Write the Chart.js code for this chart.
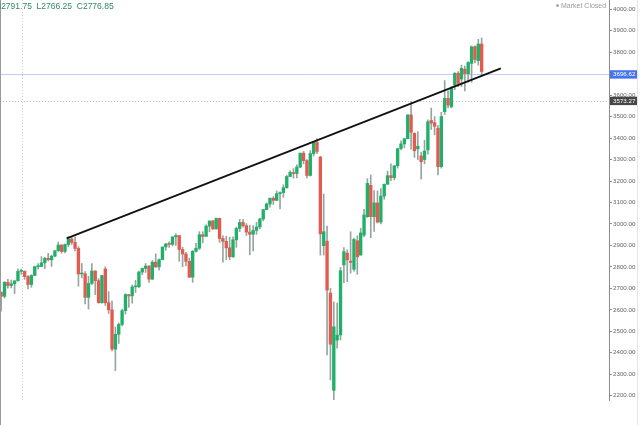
<!DOCTYPE html>
<html>
<head>
<meta charset="utf-8">
<script src="https://cdn.jsdelivr.net/npm/chart.js@4.4.1/dist/chart.umd.min.js"></script>
<style>
  html, body { margin: 0; padding: 0; background: #fff; }
  #wrap { position: relative; width: 640px; height: 425px; overflow: hidden; }
  #legend { position: absolute; left: -5px; top: 1px; font: 8.5px 'Liberation Sans', Arial, sans-serif; color: #2f8a62; white-space: pre; }
  #status { position: absolute; left: 556px; top: 2px; font: 7px 'Liberation Sans', Arial, sans-serif; color: #9a9a9a; white-space: pre; }
  #status span { display: inline-block; width: 3px; height: 3px; border-radius: 50%; background: #a8a8a8; margin-right: 2px; vertical-align: 1px; }
</style>
</head>
<body>
<div id="wrap">
  <canvas id="chart" width="640" height="425"></canvas>
  <div id="legend">H2791.75  L2766.25  C2776.85</div>
  <div id="status"><span></span>Market Closed</div>
</div>
<script>
// Weekly candles, first week ending 2018-05-04
const firstWeek = '2018-05-04';

const opens = [
  2682, 2663, 2728, 2713, 2721, 2735, 2779, 2780, 2755, 2718, 2760, 2801, 2802, 2819, 2840, 2833, 2850, 2875,
  2902, 2872, 2904, 2930, 2914, 2886, 2767, 2768, 2658, 2723, 2781, 2736, 2633, 2790, 2633, 2600, 2417,
  2486, 2532, 2596, 2671, 2665, 2707, 2708, 2776, 2793, 2804, 2743, 2822, 2800, 2834, 2893, 2907, 2905,
  2940, 2946, 2881, 2860, 2826, 2752, 2873, 2887, 2950, 2942, 2990, 3014, 2977, 3026, 2932, 2919, 2889,
  2847, 2926, 2979, 3007, 2992, 2962, 2952, 2970, 2986, 3023, 3067, 3093, 3120, 3110, 3141, 3146, 3169, 3221,
  3240, 3235, 3265, 3330, 3295, 3226, 3328, 3380, 3312, 2899, 2920, 2678, 2225, 2459, 2483, 2809, 2864,
  2827, 2789, 2922, 2855, 2948, 3034, 3180, 3034, 3098, 3009, 3130, 3185, 3225, 3216, 3271, 3351, 3373,
  3397, 3508, 3422, 3350, 3317, 3300, 3345, 3482, 3472, 3446, 3267, 3523, 3585, 3546, 3647, 3702, 3675,
  3721, 3700, 3748, 3826, 3761, 3838
];
const highs = [
  2684, 2732, 2742, 2739, 2736, 2791, 2790, 2781, 2760, 2764, 2804, 2816, 2848, 2845, 2863, 2855, 2877, 2916,
  2903, 2908, 2941, 2940, 2940, 2894, 2816, 2778, 2756, 2815, 2782, 2746, 2760, 2800, 2685, 2641, 2520,
  2539, 2604, 2675, 2671, 2716, 2738, 2780, 2795, 2816, 2806, 2830, 2861, 2838, 2893, 2910, 2917, 2940,
  2954, 2946, 2892, 2868, 2841, 2876, 2910, 2964, 2964, 2996, 3014, 3017, 3028, 3027, 2945, 2943, 2939,
  2940, 2985, 3021, 3022, 3002, 2993, 2993, 3008, 3027, 3067, 3098, 3121, 3127, 3154, 3150, 3183, 3226, 3248,
  3258, 3276, 3330, 3338, 3300, 3341, 3385, 3397, 3315, 3139, 2990, 2700, 2637, 2631, 2798, 2890, 2880,
  2964, 2934, 2945, 2980, 3068, 3211, 3228, 3155, 3154, 3165, 3186, 3246, 3280, 3272, 3352, 3387, 3399,
  3509, 3570, 3425, 3430, 3335, 3390, 3485, 3540, 3500, 3460, 3520, 3668, 3620, 3640, 3705, 3710, 3740,
  3735, 3756, 3830, 3830, 3860, 3866
];
const lows = [
  2594, 2655, 2701, 2702, 2676, 2735, 2765, 2742, 2698, 2705, 2759, 2790, 2802, 2792, 2828, 2802, 2848, 2873,
  2864, 2865, 2894, 2904, 2874, 2710, 2749, 2628, 2603, 2717, 2671, 2631, 2631, 2621, 2583, 2409, 2317,
  2443, 2525, 2580, 2612, 2631, 2681, 2703, 2763, 2774, 2728, 2741, 2798, 2785, 2834, 2877, 2891, 2898,
  2900, 2826, 2801, 2805, 2750, 2728, 2869, 2881, 2912, 2942, 2963, 2975, 2976, 2914, 2822, 2834, 2834,
  2844, 2891, 2964, 2985, 2946, 2856, 2874, 2952, 2977, 3014, 3066, 3078, 3091, 3108, 3070, 3124, 3166, 3220,
  3213, 3214, 3262, 3280, 3214, 3223, 3316, 3328, 2855, 2855, 2390, 2273, 2180, 2422, 2460, 2727, 2731,
  2771, 2780, 2766, 2855, 2940, 3030, 2936, 2965, 3004, 3000, 3115, 3185, 3202, 3205, 3260, 3345, 3355,
  3397, 3349, 3310, 3300, 3209, 3280, 3325, 3440, 3415, 3228, 3260, 3510, 3540, 3540, 3625, 3640, 3640,
  3620, 3660, 3660, 3750, 3740, 3690
];
const closes = [
  2663, 2728, 2713, 2721, 2735, 2779, 2780, 2755, 2718, 2760, 2801, 2802, 2819, 2840, 2833, 2850, 2875, 2902,
  2872, 2904, 2930, 2914, 2886, 2767, 2768, 2658, 2723, 2781, 2736, 2633, 2760, 2633, 2600, 2417, 2486,
  2532, 2596, 2671, 2665, 2707, 2708, 2776, 2793, 2804, 2743, 2822, 2800, 2834, 2893, 2907, 2905, 2940,
  2946, 2881, 2860, 2826, 2752, 2873, 2887, 2950, 2942, 2990, 3014, 2977, 3026, 2932, 2919, 2889, 2847,
  2926, 2979, 3007, 2992, 2962, 2952, 2970, 2986, 3023, 3067, 3093, 3120, 3110, 3141, 3146, 3169, 3221, 3240,
  3235, 3265, 3330, 3295, 3226, 3328, 3380, 3338, 2954, 2964, 2692, 2440, 2521, 2482, 2782, 2871, 2833,
  2821, 2928, 2847, 2958, 3042, 3189, 3034, 3098, 3009, 3130, 3185, 3225, 3216, 3271, 3351, 3373, 3397,
  3508, 3427, 3341, 3362, 3290, 3340, 3476, 3470, 3455, 3267, 3500, 3585, 3554, 3632, 3702, 3655, 3725,
  3700, 3752, 3825, 3766, 3838, 3710
];

const yTicks = [2200, 2300, 2400, 2500, 2600, 2700, 2800, 2900, 3000, 3100, 3200, 3300, 3400, 3500, 3600, 3700, 3800, 3900, 4000];

// trendline drawn on the chart (week index, price)
const trendWeeks = [19.5, 148.7];
const trendPrices = [2933, 3725];

const lastPrice = 3696.62;
const prevClose = 3573.27;
const crosshairWeek = 6.3;

const UP = '#20b06a';
const DOWN = '#e25a50';
const WICK = '#96a69e';

const weeks = [];
const d0 = new Date(firstWeek + 'T00:00:00Z');
for (let i = 0; i < opens.length; i++) {
  const d = new Date(d0.getTime() + i * 7 * 86400000);
  weeks.push(d.toISOString().slice(0, 10));
}

const bodies = opens.map((o, i) => ({ x: i, y: [o, closes[i]] }));
const wicks = lows.map((l, i) => ({ x: i, y: [l, highs[i]] }));
const bodyColors = opens.map((o, i) => closes[i] >= o ? UP : DOWN);
const trend = trendWeeks.map((w, i) => ({ x: w, y: trendPrices[i] }));

const overlay = {
  id: 'overlay',
  beforeDatasetsDraw(chart) {
    const { ctx, chartArea: a, scales: { x, y } } = chart;
    ctx.save();
    // crosshair
    ctx.strokeStyle = '#d0d0d0';
    ctx.lineWidth = 1;
    ctx.setLineDash([1, 2]);
    const cx = Math.round(x.getPixelForValue(crosshairWeek)) + 0.5;
    ctx.beginPath(); ctx.moveTo(cx, a.top); ctx.lineTo(cx, a.bottom); ctx.stroke();
    // previous close dotted line
    ctx.strokeStyle = '#c4c4c4';
    const py = Math.round(y.getPixelForValue(prevClose)) + 0.5;
    ctx.beginPath(); ctx.moveTo(a.left, py); ctx.lineTo(a.right, py); ctx.stroke();
    // last price line
    ctx.setLineDash([]);
    ctx.strokeStyle = '#bccdfa';
    const ly = Math.round(y.getPixelForValue(lastPrice)) + 0.5;
    ctx.beginPath(); ctx.moveTo(a.left, ly); ctx.lineTo(a.right, ly); ctx.stroke();
    ctx.restore();
  },
  afterDraw(chart) {
    const { ctx, chartArea: a, scales: { y } } = chart;
    ctx.save();
    // left frame and right edge lines
    ctx.strokeStyle = '#9a9a9a';
    ctx.lineWidth = 1;
    ctx.beginPath(); ctx.moveTo(0.5, 0); ctx.lineTo(0.5, 425); ctx.stroke();
    ctx.strokeStyle = '#e6e6e6';
    ctx.beginPath(); ctx.moveTo(637.5, 0); ctx.lineTo(637.5, 425); ctx.stroke();
    // price labels on the axis
    ctx.font = "6.2px 'Liberation Sans', Arial, sans-serif";
    ctx.textBaseline = 'middle';
    const boxes = [[lastPrice, '#4474f0'], [prevClose, '#474747']];
    boxes.forEach(([v, c]) => {
      const py = y.getPixelForValue(v);
      ctx.fillStyle = c;
      ctx.fillRect(a.right + 1, py - 4.2, 27, 8.4);
      ctx.fillStyle = '#ffffff';
      ctx.fillText(v.toFixed(2), a.right + 4, py + 0.3);
    });
    ctx.restore();
  }
};

new Chart(document.getElementById('chart'), {
  type: 'bar',
  data: {
    labels: weeks,
    datasets: [
      {
        type: 'line',
        data: trend,
        borderColor: '#111111',
        borderWidth: 1.8,
        pointRadius: 0,
        order: 0
      },
      {
        data: bodies,
        backgroundColor: bodyColors,
        barThickness: 2.7,
        minBarLength: 1,
        grouped: false,
        order: 1
      },
      {
        data: wicks,
        backgroundColor: WICK,
        barThickness: 1,
        grouped: false,
        order: 2
      }
    ]
  },
  plugins: [overlay],
  options: {
    responsive: false,
    animation: false,
    devicePixelRatio: 1,
    layout: { padding: { left: 0, right: 0, top: 0, bottom: 25 } },
    plugins: {
      legend: { display: false },
      tooltip: { enabled: false }
    },
    scales: {
      x: {
        type: 'linear',
        min: -0.34,
        max: 180.9,
        offset: false,
        display: false
      },
      y: {
        position: 'right',
        min: 2180,
        max: 4043.3,
        afterBuildTicks: (scale) => { scale.ticks = yTicks.map(v => ({ value: v })); },
        afterFit: (scale) => { scale.width = 31; scale.paddingTop = 0; scale.paddingBottom = 0; },
        border: { display: true, color: '#8c8c8c' },
        grid: { drawOnChartArea: false, drawTicks: true, tickLength: 3, color: '#8c8c8c' },
        ticks: {
          padding: 1,
          color: '#666666',
          font: { family: "'Liberation Sans', Arial, sans-serif", size: 6.2 },
          callback: (v) => Number(v).toFixed(2)
        }
      }
    }
  }
});
</script>
</body>
</html>
